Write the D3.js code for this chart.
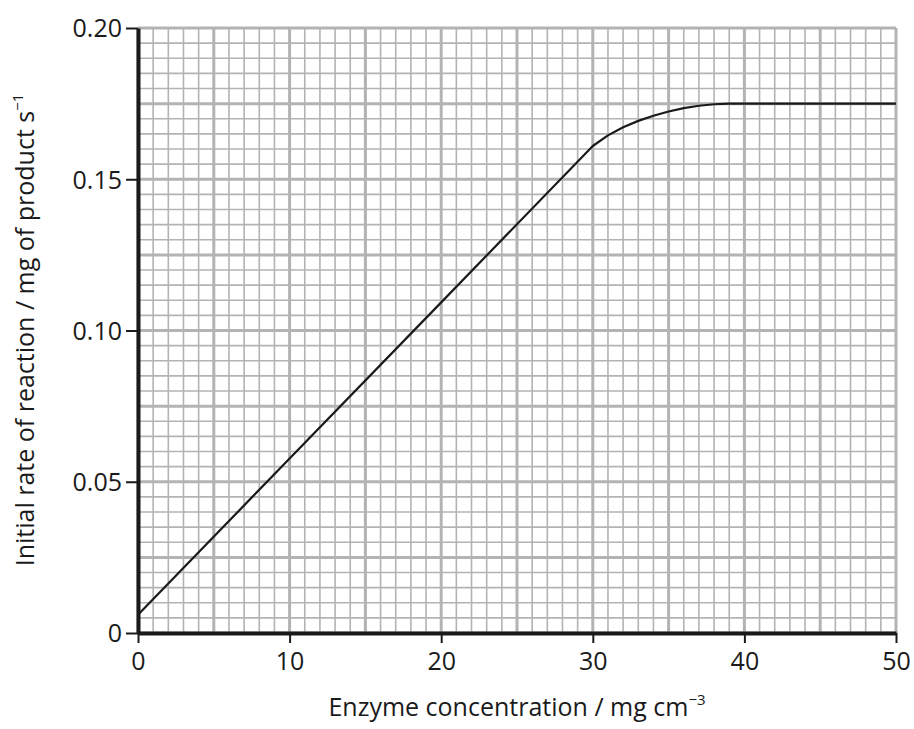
<!DOCTYPE html><html><head><meta charset="utf-8"><script src="https://cdn.jsdelivr.net/npm/d3@7"></script>
<style>body{margin:0;background:#fff}text{font-family:"Open Sans",sans-serif}</style></head><body>
<svg id="c" width="914" height="729"></svg>
<script>
const xs=[0,10,20,30,31,32,33,34,35,36,37,38,39,40,50];
const ys=[0.006,0.0577,0.1093,0.161,0.1645,0.1672,0.1693,0.1710,0.1724,0.1735,0.1743,0.1748,0.1750,0.175,0.175];
const xTicks=[0,10,20,30,40,50];
const yTicks=[0,0.05,0.10,0.15,0.20];
const yTickLabels=["0","0.05","0.10","0.15","0.20"];
const svg=d3.select("#c");
const x=d3.scaleLinear().domain([0,50]).range([138,896]);
const y=d3.scaleLinear().domain([0,0.2]).range([633,28]);
const g=svg.append("g");
for(let i=0;i<=50;i++){g.append("line").attr("x1",x(i)).attr("x2",x(i)).attr("y1",y(0)).attr("y2",y(0.2))
 .attr("stroke","#b3b3b3").attr("stroke-width",i%5==0?3:1.6);}
for(let j=0;j<=40;j++){const v=j*0.005;g.append("line").attr("y1",y(v)).attr("y2",y(v)).attr("x1",x(0)).attr("x2",x(50))
 .attr("stroke","#b3b3b3").attr("stroke-width",j%5==0?3:1.6);}
const line=d3.line().x((d,i)=>x(xs[i])).y((d,i)=>y(ys[i])).curve(d3.curveLinear);
svg.append("path").attr("d",line(xs)).attr("fill","none").attr("stroke","#1a1a1a").attr("stroke-width",2.2).attr("stroke-linejoin","round");
const xa=svg.append("g").attr("transform",`translate(0,${y(0)})`).call(d3.axisBottom(x).tickValues(xTicks).tickSize(10).tickSizeOuter(0));
const ya=svg.append("g").attr("transform",`translate(${x(0)},0)`).call(d3.axisLeft(y).tickValues(yTicks).tickFormat((d,i)=>yTickLabels[i]).tickSize(12).tickSizeOuter(0));
[xa,ya].forEach(a=>{a.select(".domain").attr("stroke","#1a1a1a").attr("stroke-width",4);
 a.selectAll(".tick line").attr("stroke","#1a1a1a").attr("stroke-width",2);
 a.selectAll("text").attr("font-size",25).attr("fill","#1a1a1a").attr("font-family","Open Sans");});
xa.selectAll("text").attr("dy","1em").attr("y",12);
ya.selectAll("text").attr("dy","0.35em").attr("x",-16);
svg.append("text").attr("x",517).attr("y",716).attr("text-anchor","middle").attr("font-size",25).attr("fill","#1a1a1a")
 .html('Enzyme concentration / mg cm<tspan dy="-11" font-size="15">−3</tspan>');
svg.append("text").attr("transform","translate(34,330) rotate(-90)").attr("text-anchor","middle").attr("font-size",25).attr("fill","#1a1a1a")
 .html('Initial rate of reaction / mg of product s<tspan dy="-11" font-size="15">−1</tspan>');
</script></body></html>
